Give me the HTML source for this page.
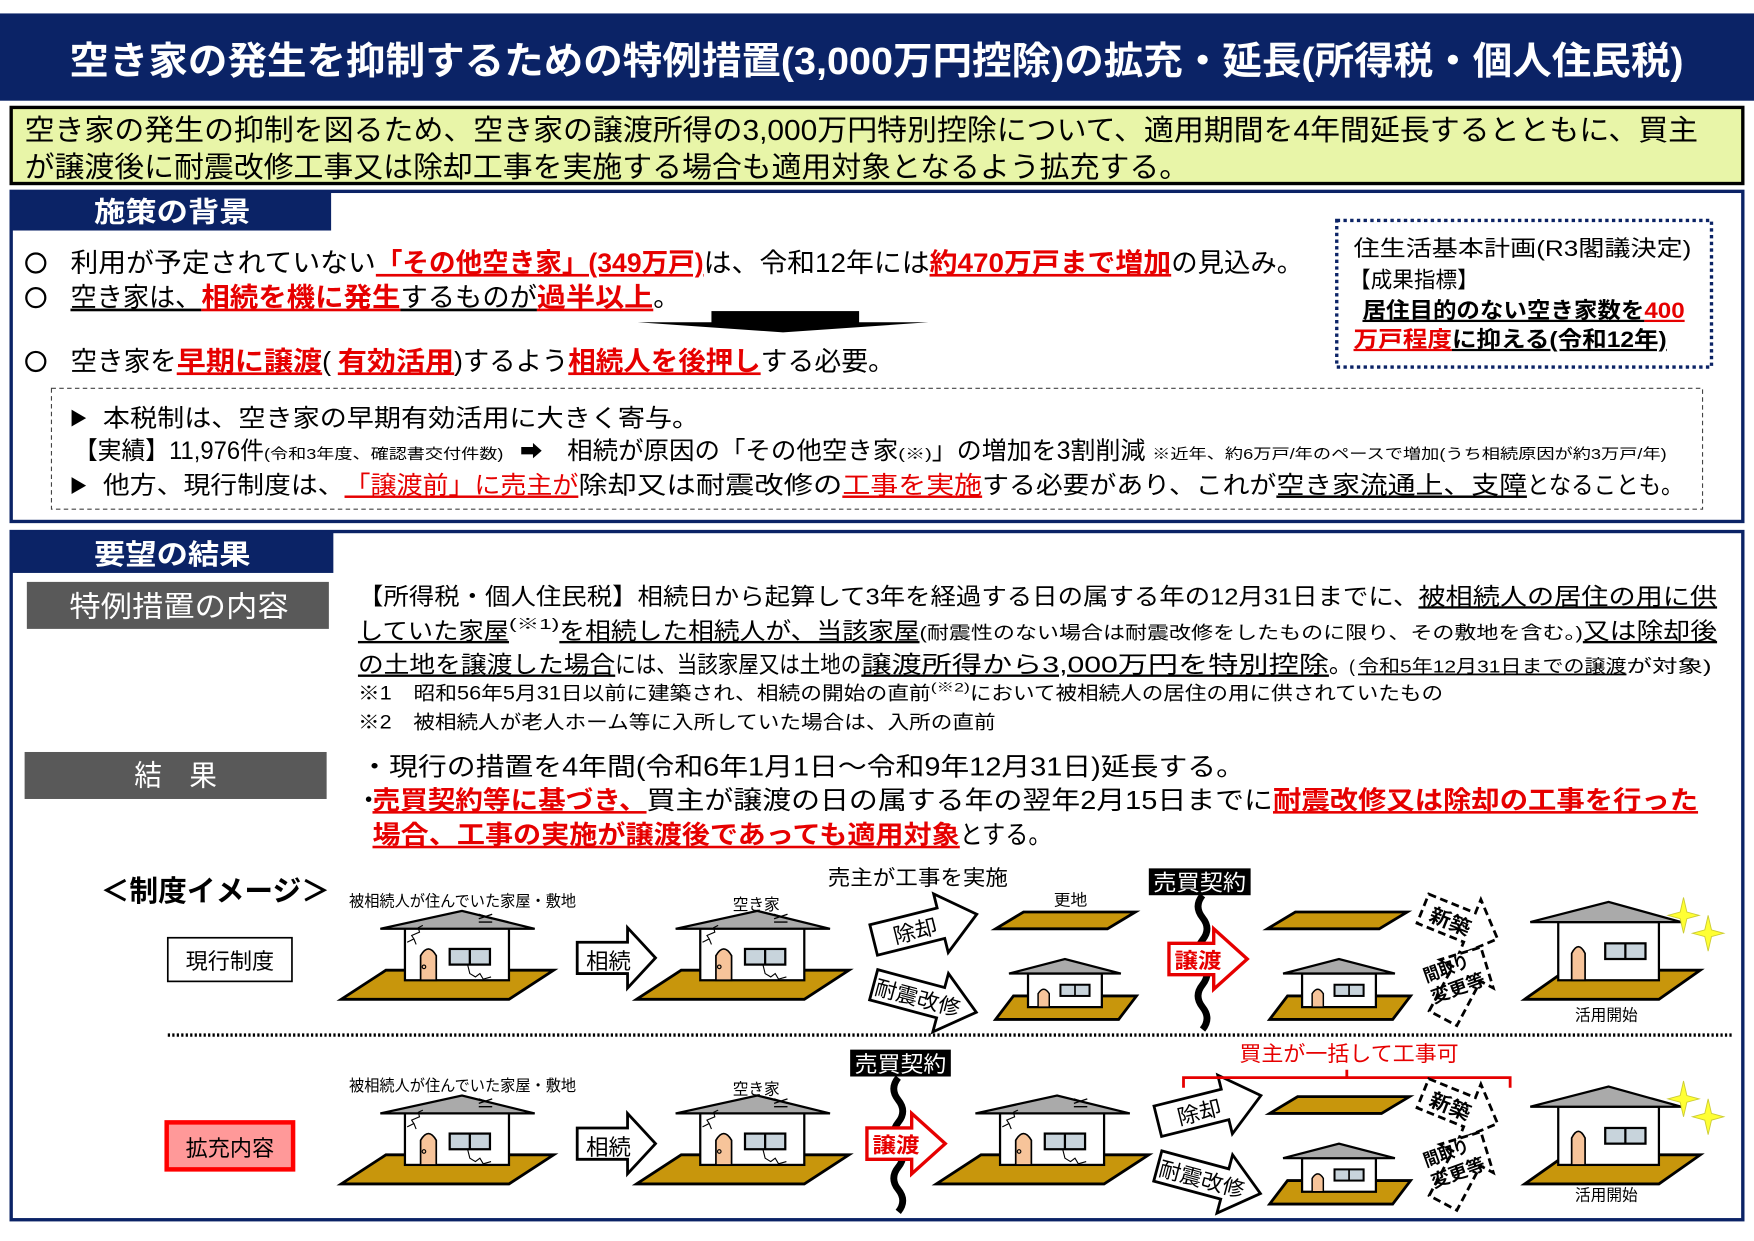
<!DOCTYPE html>
<html><head><meta charset="utf-8"><style>
html,body{margin:0;padding:0;background:#fff;}
svg{display:block}
text{font-family:"Liberation Sans","Noto Sans CJK JP",sans-serif;}
.b{font-weight:bold}
.r{fill:#e60000;font-weight:bold}
.u{text-decoration:underline}
</style></head><body>
<svg width="1754" height="1241" viewBox="0 0 1568 1109" preserveAspectRatio="none" xmlns="http://www.w3.org/2000/svg">
<defs>
<g id="bighouse">
 <polygon points="-103,17 47,17 87,-9 -63,-9" fill="#c8960c" stroke="#000" stroke-width="2.5"/>
 <rect x="-46" y="-48" width="93" height="48" fill="#fff" stroke="#000" stroke-width="2"/>
 <polygon points="-68,-46 5,-62 70,-46" fill="#aaa" stroke="#000" stroke-width="2"/>
 <path d="M-32,0 V-22 Q-25,-34 -18,-22 V0 Z" fill="#f7c49a" stroke="#000" stroke-width="1.5"/>
 <circle cx="-29" cy="-12" r="1.6" fill="none" stroke="#000"/>
 <rect x="-6" y="-28" width="36" height="14" fill="#c8d4dc" stroke="#000" stroke-width="2"/>
 <line x1="12" y1="-28" x2="12" y2="-14" stroke="#000" stroke-width="2"/>
 <path d="M-44,-34 l6,-3 -2,-3 7,-3 -1,-4 4,-2 M-38,-37 l2,5" fill="none" stroke="#000" stroke-width="1"/>
 <path d="M10,-14 l2,8 5,3 4,-3 3,5 7,-2" fill="none" stroke="#000" stroke-width="1"/>
 <path d="M20,-55 l12,-4 M20,-59 l12,4 M20,-52 h12" fill="none" stroke="#000" stroke-width="1.2"/>
</g>
<g id="smallhouse">
 <polygon points="-62,11 48,11 64,-10 -46,-10" fill="#c8960c" stroke="#000" stroke-width="2.5"/>
 <rect x="-33" y="-30" width="66" height="30" fill="#fff" stroke="#000" stroke-width="2"/>
 <polygon points="-50,-30 0,-43 50,-30" fill="#aaa" stroke="#000" stroke-width="2"/>
 <path d="M-24,0 V-12 Q-19,-20 -14,-12 V0 Z" fill="#f7c49a" stroke="#000" stroke-width="1.3"/>
 <rect x="-4" y="-20" width="26" height="10" fill="#c8d4dc" stroke="#000" stroke-width="1.8"/>
 <line x1="9" y1="-20" x2="9" y2="-10" stroke="#000" stroke-width="1.5"/>
</g>
<g id="newhouse">
 <polygon points="-70,17 50,17 87,-9 -33,-9" fill="#c8960c" stroke="#000" stroke-width="2.5"/>
 <rect x="-40" y="-52" width="90" height="52" fill="#fff" stroke="#000" stroke-width="2"/>
 <polygon points="-65,-52 5,-70 70,-52" fill="#aaa" stroke="#000" stroke-width="2"/>
 <path d="M-28,0 V-24 Q-22,-36 -16,-24 V0 Z" fill="#f7c49a" stroke="#000" stroke-width="1.5"/>
 <rect x="2" y="-33" width="36" height="14" fill="#c8d4dc" stroke="#000" stroke-width="2"/>
 <line x1="20" y1="-33" x2="20" y2="-19" stroke="#000" stroke-width="2"/>
</g>
<polygon id="lot" points="0,15 100,15 125,0 25,0" fill="#c8960c" stroke="#000" stroke-width="2.5"/>
<path id="blk" d="M0,-14 H45 V-27 L70,0 L45,27 V14 H0 Z" fill="#fff" stroke="#000" stroke-width="2.5"/>
<path id="tilt" d="M0,-14 H62 V-27 L95,0 L62,27 V14 H0 Z" fill="#fff" stroke="#000" stroke-width="2.5"/>
<path id="dash" d="M0,-14 H45 V-27 L72,0 L45,27 V14 H0 Z" fill="#fff" stroke="#000" stroke-width="2.5" stroke-dasharray="7,4"/>
<path id="wave" d="M0,0 q-8,10 0,20 q8,10 0,20 q-8,10 0,20 q8,10 0,20 q-8,10 0,20 q8,10 0,20" fill="none" stroke="#000" stroke-width="6"/>
<path id="spark" d="M0,-16 L3,-3 L14,0 L3,3 L0,16 L-3,3 L-14,0 L-3,-3 Z" fill="#ffff33" stroke="#cc3" stroke-width="0.8"/>
</defs>

<rect x="0" y="12" width="1568" height="78" fill="#0b2366"/>
<text x="62" y="66" font-size="34" fill="#fff" class="b" textLength="1443" lengthAdjust="spacingAndGlyphs">空き家の発生を抑制するための特例措置(3,000万円控除)の拡充・延長(所得税・個人住民税)</text>

<rect x="10" y="96" width="1548" height="68" fill="#e8f5a8" stroke="#000" stroke-width="3"/>
<text x="22" y="125" font-size="26" textLength="1496" lengthAdjust="spacingAndGlyphs">空き家の発生の抑制を図るため、空き家の譲渡所得の3,000万円特別控除について、適用期間を4年間延長するとともに、買主</text>
<text x="22" y="158" font-size="26" textLength="1041" lengthAdjust="spacingAndGlyphs">が譲渡後に耐震改修工事又は除却工事を実施する場合も適用対象となるよう拡充する。</text>

<rect x="10" y="171" width="1548" height="295" fill="#fff" stroke="#0b2366" stroke-width="3"/>
<rect x="10" y="171" width="286" height="35" fill="#0b2366"/>
<text x="84" y="198" font-size="25" fill="#fff" class="b" textLength="140" lengthAdjust="spacingAndGlyphs">施策の背景</text>

<circle cx="32" cy="235" r="8.5" fill="none" stroke="#000" stroke-width="2"/>
<text x="63" y="243" font-size="24" textLength="273" lengthAdjust="spacingAndGlyphs">利用が予定されていない</text>
<text x="336" y="243" font-size="24" class="r u" textLength="293" lengthAdjust="spacingAndGlyphs">「その他空き家」(349万戸)</text>
<text x="629" y="243" font-size="24" textLength="202" lengthAdjust="spacingAndGlyphs">は、令和12年には</text>
<text x="831" y="243" font-size="24" class="r u" textLength="216" lengthAdjust="spacingAndGlyphs">約470万戸まで増加</text>
<text x="1047" y="243" font-size="24" textLength="118" lengthAdjust="spacingAndGlyphs">の見込み。</text>

<circle cx="32" cy="266" r="8.5" fill="none" stroke="#000" stroke-width="2"/>
<text x="63" y="274" font-size="24" class="u" textLength="117" lengthAdjust="spacingAndGlyphs">空き家は、</text>
<text x="180" y="274" font-size="24" class="r u" textLength="178" lengthAdjust="spacingAndGlyphs">相続を機に発生</text>
<text x="358" y="274" font-size="24" class="u" textLength="122" lengthAdjust="spacingAndGlyphs">するものが</text>
<text x="480" y="274" font-size="24" class="r u" textLength="104" lengthAdjust="spacingAndGlyphs">過半以上</text>
<text x="584" y="274" font-size="24">。</text>

<rect x="636" y="278" width="132" height="11" fill="#000"/>
<polygon points="570,288 830,288 700,297" fill="#000"/>

<circle cx="32" cy="323" r="8.5" fill="none" stroke="#000" stroke-width="2"/>
<text x="63" y="331" font-size="24" textLength="95" lengthAdjust="spacingAndGlyphs">空き家を</text>
<text x="158" y="331" font-size="24" class="r u" textLength="130" lengthAdjust="spacingAndGlyphs">早期に譲渡</text>
<text x="288" y="331" font-size="24" textLength="14">(</text>
<text x="302" y="331" font-size="24" class="r u" textLength="104" lengthAdjust="spacingAndGlyphs">有効活用</text>
<text x="406" y="331" font-size="24" textLength="102" lengthAdjust="spacingAndGlyphs">)するよう</text>
<text x="508" y="331" font-size="24" class="r u" textLength="172" lengthAdjust="spacingAndGlyphs">相続人を後押し</text>
<text x="680" y="331" font-size="24" textLength="120" lengthAdjust="spacingAndGlyphs">する必要。</text>

<rect x="1195" y="197" width="335" height="131" fill="#fff" stroke="#0b2366" stroke-width="3" stroke-dasharray="3,3"/>
<text x="1210" y="229" font-size="20" textLength="302" lengthAdjust="spacingAndGlyphs">住生活基本計画(R3閣議決定)</text>
<text x="1206" y="257" font-size="20" textLength="116" lengthAdjust="spacingAndGlyphs">【成果指標】</text>
<text x="1218" y="284" font-size="20" class="b u" textLength="252" lengthAdjust="spacingAndGlyphs">居住目的のない空き家数を</text>
<text x="1470" y="284" font-size="20" class="r u" textLength="36" lengthAdjust="spacingAndGlyphs">400</text>
<text x="1210" y="310" font-size="20" class="r u" textLength="88" lengthAdjust="spacingAndGlyphs">万戸程度</text>
<text x="1298" y="310" font-size="20" class="b u" textLength="192" lengthAdjust="spacingAndGlyphs">に抑える(令和12年)</text>

<rect x="46" y="347" width="1476" height="108" fill="none" stroke="#444" stroke-width="1" stroke-dasharray="4,3"/>
<text x="62" y="380" font-size="16">▶</text>
<text x="92" y="381" font-size="22" textLength="533" lengthAdjust="spacingAndGlyphs">本税制は、空き家の早期有効活用に大きく寄与。</text>
<text x="66" y="410" font-size="22" textLength="170" lengthAdjust="spacingAndGlyphs">【実績】11,976件</text>
<text x="236" y="410" font-size="13" textLength="214" lengthAdjust="spacingAndGlyphs">(令和3年度、確認書交付件数)</text>
<text x="465" y="410" font-size="20">➡</text>
<text x="507" y="410" font-size="22" textLength="296" lengthAdjust="spacingAndGlyphs">相続が原因の「その他空き家</text>
<text x="803" y="410" font-size="13" textLength="30" lengthAdjust="spacingAndGlyphs">(※)</text>
<text x="833" y="410" font-size="22" textLength="191" lengthAdjust="spacingAndGlyphs">」の増加を3割削減</text>
<text x="1030" y="410" font-size="13" textLength="460" lengthAdjust="spacingAndGlyphs">※近年、約6万戸/年のペースで増加(うち相続原因が約3万戸/年)</text>
<text x="62" y="440" font-size="16">▶</text>
<text x="92" y="441" font-size="22" textLength="216" lengthAdjust="spacingAndGlyphs">他方、現行制度は、</text>
<text x="308" y="441" font-size="22" class="u" fill="#e60000" textLength="209" lengthAdjust="spacingAndGlyphs">「譲渡前」に売主が</text>
<text x="517" y="441" font-size="22" textLength="236" lengthAdjust="spacingAndGlyphs">除却又は耐震改修の</text>
<text x="753" y="441" font-size="22" class="u" fill="#e60000" textLength="125" lengthAdjust="spacingAndGlyphs">工事を実施</text>
<text x="878" y="441" font-size="22" textLength="263" lengthAdjust="spacingAndGlyphs">する必要があり、これが</text>
<text x="1141" y="441" font-size="22" class="u" textLength="224" lengthAdjust="spacingAndGlyphs">空き家流通上、支障</text>
<text x="1365" y="441" font-size="22" textLength="140" lengthAdjust="spacingAndGlyphs">となることも。</text>

<rect x="10" y="475" width="1548" height="615" fill="#fff" stroke="#0b2366" stroke-width="3"/>
<rect x="10" y="475" width="288" height="37" fill="#0b2366"/>
<text x="84" y="504" font-size="25" fill="#fff" class="b" textLength="140" lengthAdjust="spacingAndGlyphs">要望の結果</text>

<rect x="24" y="520" width="270" height="42" fill="#595959"/>
<text x="62" y="551" font-size="26" fill="#fff" textLength="196" lengthAdjust="spacingAndGlyphs">特例措置の内容</text>
<rect x="22" y="672" width="270" height="42" fill="#595959"/>
<text x="120" y="702" font-size="26" fill="#fff" textLength="74" lengthAdjust="spacingAndGlyphs">結　果</text>

<text x="320" y="540" font-size="21" textLength="948" lengthAdjust="spacingAndGlyphs">【所得税・個人住民税】相続日から起算して3年を経過する日の属する年の12月31日までに、</text>
<text x="1268" y="540" font-size="21" class="u" textLength="267" lengthAdjust="spacingAndGlyphs">被相続人の居住の用に供</text>
<text x="320" y="571" font-size="21" class="u" textLength="135" lengthAdjust="spacingAndGlyphs">していた家屋</text>
<text x="455" y="562" font-size="13" textLength="45" lengthAdjust="spacingAndGlyphs">(※1)</text>
<text x="500" y="571" font-size="21" class="u" textLength="322" lengthAdjust="spacingAndGlyphs">を相続した相続人が、当該家屋</text>
<text x="822" y="571" font-size="16" textLength="593" lengthAdjust="spacingAndGlyphs">(耐震性のない場合は耐震改修をしたものに限り、その敷地を含む。)</text>
<text x="1415" y="571" font-size="21" class="u" textLength="120" lengthAdjust="spacingAndGlyphs">又は除却後</text>
<text x="320" y="601" font-size="21" class="u" textLength="230" lengthAdjust="spacingAndGlyphs">の土地を譲渡した場合</text>
<text x="550" y="601" font-size="21" textLength="220" lengthAdjust="spacingAndGlyphs">には、当該家屋又は土地の</text>
<text x="770" y="601" font-size="21" class="u" textLength="418" lengthAdjust="spacingAndGlyphs">譲渡所得から3,000万円を特別控除</text>
<text x="1188" y="601" font-size="21">。</text>
<text x="1206" y="601" font-size="16" textLength="8">(</text>
<text x="1214" y="601" font-size="16" class="u" textLength="240" lengthAdjust="spacingAndGlyphs">令和5年12月31日までの譲渡</text>
<text x="1454" y="601" font-size="16" textLength="76" lengthAdjust="spacingAndGlyphs">が対象)</text>
<text x="320" y="625" font-size="17" textLength="512" lengthAdjust="spacingAndGlyphs">※1　昭和56年5月31日以前に建築され、相続の開始の直前</text>
<text x="832" y="618" font-size="11" textLength="35" lengthAdjust="spacingAndGlyphs">(※2)</text>
<text x="867" y="625" font-size="17" textLength="423" lengthAdjust="spacingAndGlyphs">において被相続人の居住の用に供されていたもの</text>
<text x="320" y="651" font-size="17" textLength="570" lengthAdjust="spacingAndGlyphs">※2　被相続人が老人ホーム等に入所していた場合は、入所の直前</text>

<text x="322" y="693" font-size="23" textLength="791" lengthAdjust="spacingAndGlyphs">・現行の措置を4年間(令和6年1月1日～令和9年12月31日)延長する。</text>
<text x="318" y="723" font-size="23">・</text>
<text x="333" y="723" font-size="23" class="r u" textLength="245" lengthAdjust="spacingAndGlyphs">売買契約等に基づき、</text>
<text x="578" y="723" font-size="23" textLength="560" lengthAdjust="spacingAndGlyphs">買主が譲渡の日の属する年の翌年2月15日までに</text>
<text x="1138" y="723" font-size="23" class="r u" textLength="380" lengthAdjust="spacingAndGlyphs">耐震改修又は除却の工事を行った</text>
<text x="333" y="754" font-size="23" class="r u" textLength="525" lengthAdjust="spacingAndGlyphs">場合、工事の実施が譲渡後であっても適用対象</text>
<text x="858" y="754" font-size="23" textLength="82" lengthAdjust="spacingAndGlyphs">とする。</text>

<text x="90" y="805" font-size="26" class="b" textLength="205" lengthAdjust="spacingAndGlyphs">＜制度イメージ＞</text>
<rect x="150" y="838" width="111" height="39" fill="#fff" stroke="#000" stroke-width="1.5"/>
<text x="166" y="866" font-size="20" textLength="79" lengthAdjust="spacingAndGlyphs">現行制度</text>
<rect x="149" y="1003" width="113" height="42" fill="#ff9999" stroke="#ff0000" stroke-width="4"/>
<text x="166" y="1033" font-size="20" textLength="79" lengthAdjust="spacingAndGlyphs">拡充内容</text>
<line x1="150" y1="925" x2="1548" y2="925" stroke="#000" stroke-width="3" stroke-dasharray="2,2"/>

<text x="312" y="810" font-size="14" textLength="203" lengthAdjust="spacingAndGlyphs">被相続人が住んでいた家屋・敷地</text>
<text x="312" y="975" font-size="14" textLength="203" lengthAdjust="spacingAndGlyphs">被相続人が住んでいた家屋・敷地</text>
<text x="655" y="813" font-size="14" textLength="42" lengthAdjust="spacingAndGlyphs">空き家</text>
<text x="655" y="978" font-size="14" textLength="42" lengthAdjust="spacingAndGlyphs">空き家</text>
<text x="740" y="791" font-size="19" textLength="161" lengthAdjust="spacingAndGlyphs">売主が工事を実施</text>
<text x="942" y="809" font-size="14" textLength="30" lengthAdjust="spacingAndGlyphs">更地</text>
<text x="1408" y="912" font-size="14" textLength="56" lengthAdjust="spacingAndGlyphs">活用開始</text>
<text x="1408" y="1073" font-size="14" textLength="56" lengthAdjust="spacingAndGlyphs">活用開始</text>

<use href="#bighouse" x="408" y="876"/>
<use href="#bighouse" x="672" y="876"/>
<use href="#bighouse" x="408" y="1041"/>
<use href="#bighouse" x="672" y="1041"/>
<use href="#bighouse" x="940" y="1041"/>
<use href="#smallhouse" x="952" y="900"/>
<use href="#smallhouse" x="1197" y="900"/>
<use href="#smallhouse" x="1197" y="1065"/>
<use href="#newhouse" x="1433" y="876"/>
<use href="#newhouse" x="1433" y="1041"/>
<use href="#lot" x="890" y="815"/>
<use href="#lot" x="1133" y="815"/>
<use href="#lot" x="1135" y="980"/>

<use href="#blk" x="516" y="856"/>
<text x="524" y="866" font-size="20" textLength="40" lengthAdjust="spacingAndGlyphs">相続</text>
<use href="#blk" x="516" y="1022"/>
<text x="524" y="1032" font-size="20" textLength="40" lengthAdjust="spacingAndGlyphs">相続</text>

<g transform="translate(781,840) rotate(-14)"><use href="#tilt"/><text x="18" y="8" font-size="19" textLength="40" lengthAdjust="spacingAndGlyphs">除却</text></g>
<g transform="translate(781,880) rotate(15)"><use href="#tilt"/><text x="2" y="8" font-size="19" textLength="78" lengthAdjust="spacingAndGlyphs">耐震改修</text></g>
<g transform="translate(1035,1002) rotate(-14)"><use href="#tilt"/><text x="18" y="8" font-size="19" textLength="40" lengthAdjust="spacingAndGlyphs">除却</text></g>
<g transform="translate(1035,1042) rotate(15)"><use href="#tilt"/><text x="2" y="8" font-size="19" textLength="78" lengthAdjust="spacingAndGlyphs">耐震改修</text></g>

<use href="#wave" x="1075" y="800"/>
<rect x="1027" y="776" width="91" height="24" fill="#000"/>
<text x="1031" y="796" font-size="20" fill="#fff" textLength="83" lengthAdjust="spacingAndGlyphs">売買契約</text>
<path d="M1045,843 H1085 V830 L1115,857 L1085,884 V871 H1045 Z" fill="#fff" stroke="#e60000" stroke-width="3"/>
<text x="1050" y="865" font-size="19" class="r" textLength="42" lengthAdjust="spacingAndGlyphs">譲渡</text>

<use href="#wave" x="803" y="963"/>
<rect x="760" y="938" width="90" height="24" fill="#000"/>
<text x="764" y="958" font-size="20" fill="#fff" textLength="82" lengthAdjust="spacingAndGlyphs">売買契約</text>
<path d="M775,1008 H815 V995 L845,1022 L815,1049 V1036 H775 Z" fill="#fff" stroke="#e60000" stroke-width="3"/>
<text x="780" y="1030" font-size="19" class="r" textLength="42" lengthAdjust="spacingAndGlyphs">譲渡</text>

<text x="1108" y="948" font-size="19" fill="#e60000" textLength="196" lengthAdjust="spacingAndGlyphs">買主が一括して工事可</text>
<path d="M1058,972 V963 H1350 V972 M1204,963 V956" fill="none" stroke="#e60000" stroke-width="2.5"/>

<g transform="translate(1272,812) rotate(22)"><use href="#dash"/><text x="8" y="8" font-size="18" class="b" textLength="38" lengthAdjust="spacingAndGlyphs">新築</text></g>
<g transform="translate(1290,910) rotate(-62)"><use href="#dash"/></g>
<g transform="translate(1275,878) rotate(-20)"><text x="0" y="0" font-size="16" class="b" textLength="42" lengthAdjust="spacingAndGlyphs">間取り</text><text x="0" y="20" font-size="16" class="b" textLength="50" lengthAdjust="spacingAndGlyphs">変更等</text></g>
<g transform="translate(1272,977) rotate(22)"><use href="#dash"/><text x="8" y="8" font-size="18" class="b" textLength="38" lengthAdjust="spacingAndGlyphs">新築</text></g>
<g transform="translate(1290,1075) rotate(-62)"><use href="#dash"/></g>
<g transform="translate(1275,1043) rotate(-20)"><text x="0" y="0" font-size="16" class="b" textLength="42" lengthAdjust="spacingAndGlyphs">間取り</text><text x="0" y="20" font-size="16" class="b" textLength="50" lengthAdjust="spacingAndGlyphs">変更等</text></g>

<use href="#spark" x="1505" y="818"/>
<use href="#spark" x="1527" y="834"/>
<use href="#spark" x="1505" y="982"/>
<use href="#spark" x="1527" y="998"/>
</svg>
</body></html>
